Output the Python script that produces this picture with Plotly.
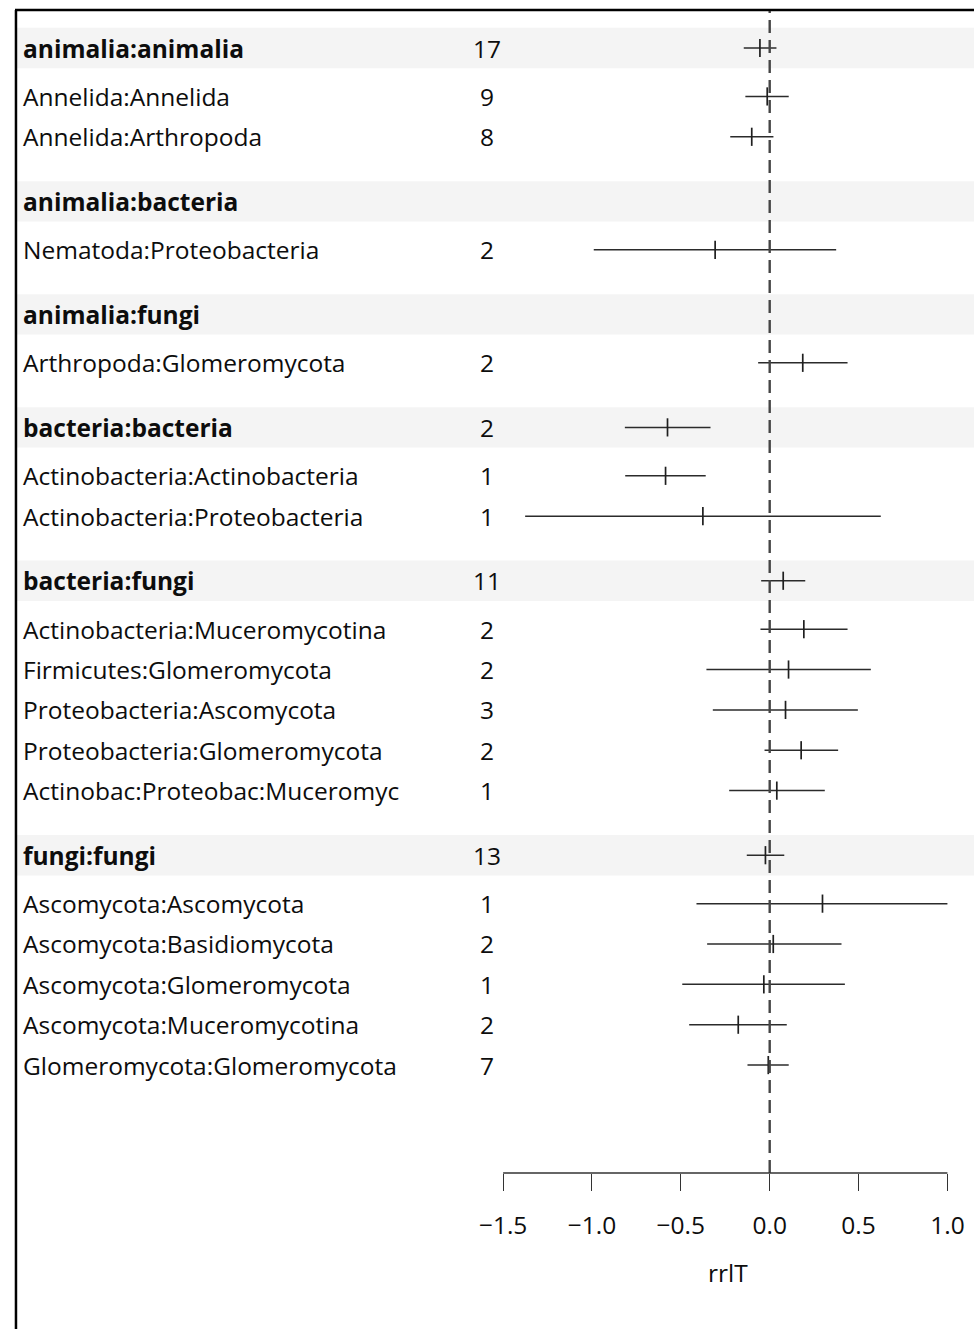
import plotly.graph_objects as go

# ---- data -------------------------------------------------------------
labels = [
    "animalia:animalia", "Annelida:Annelida", "Annelida:Arthropoda",
    "animalia:bacteria", "Nematoda:Proteobacteria",
    "animalia:fungi", "Arthropoda:Glomeromycota",
    "bacteria:bacteria", "Actinobacteria:Actinobacteria", "Actinobacteria:Proteobacteria",
    "bacteria:fungi", "Actinobacteria:Muceromycotina", "Firmicutes:Glomeromycota",
    "Proteobacteria:Ascomycota", "Proteobacteria:Glomeromycota", "Actinobac:Proteobac:Muceromyc",
    "fungi:fungi", "Ascomycota:Ascomycota", "Ascomycota:Basidiomycota",
    "Ascomycota:Glomeromycota", "Ascomycota:Muceromycotina", "Glomeromycota:Glomeromycota",
]
is_group = [
    True, False, False,
    True, False,
    True, False,
    True, False, False,
    True, False, False, False, False, False,
    True, False, False, False, False, False,
]
counts = [17, 9, 8, None, 2, None, 2, 2, 1, 1, 11, 2, 2, 3, 2, 1, 13, 1, 2, 1, 2, 7]
estimate = [-0.055, -0.014, -0.101, None, -0.307, None, 0.186, -0.575, -0.586, -0.376,
            0.076, 0.192, 0.106, 0.089, 0.177, 0.040, -0.024, 0.297, 0.020, -0.033, -0.177, -0.008]
ci_low = [-0.146, -0.137, -0.222, None, -0.990, None, -0.065, -0.815, -0.813, -1.376,
          -0.048, -0.052, -0.356, -0.320, -0.029, -0.228, -0.129, -0.412, -0.352, -0.492, -0.453, -0.125]
ci_high = [0.038, 0.107, 0.021, None, 0.374, None, 0.438, -0.333, -0.360, 0.625,
           0.200, 0.438, 0.569, 0.496, 0.385, 0.310, 0.082, 1.000, 0.404, 0.423, 0.096, 0.107]
x_ticks = [-1.5, -1.0, -0.5, 0.0, 0.5, 1.0]
x_title = "rrlT"

# ---- layout constants -------------------------------------------------
W, H = 1001, 1329
FONT = "Open Sans"
FS = 24.5
OFF, SX = 13.6, 0.973                      # page placement of the figure


def px(x_page):
    """paper fraction for a horizontal page position"""
    return ((x_page - OFF) / SX) / W


ROW_PX, FIRST_ROW_PX = 40.36, 48          # pixels per row step, centre of first row
TOP_PX, AXIS_PX = 10, 1173                # top of panel, x-axis line
X_AT_MIN, X_AT_MAX = 501.7, 946.0         # page x of -1.5 and 1.0

# row positions: header->child 1.2, child->child 1.0, child->header 1.6
ypos = []
y = 0.0
for i, g in enumerate(is_group):
    if i > 0:
        if g:
            y += 1.6
        elif is_group[i - 1]:
            y += 1.2
        else:
            y += 1.0
    ypos.append(round(y, 2))

y_top = (TOP_PX - FIRST_ROW_PX) / ROW_PX
y_bot = (AXIS_PX - FIRST_ROW_PX) / ROW_PX
x_lo, x_hi = -1.55, 1.03
f_min, f_max = px(X_AT_MIN), px(X_AT_MAX)
per_unit = (f_max - f_min) / (x_ticks[-1] - x_ticks[0])
dom_x = [f_min + (x_lo - x_ticks[0]) * per_unit, f_max + (x_hi - x_ticks[-1]) * per_unit]
dom_y = [(H - AXIS_PX) / H, (H - TOP_PX) / H]

fig = go.Figure()

# confidence intervals
cx, cy = [], []
for lo, hi, yy in zip(ci_low, ci_high, ypos):
    if lo is None:
        continue
    cx += [lo, hi, None]
    cy += [yy, yy, None]
fig.add_trace(go.Scatter(x=cx, y=cy, mode="lines",
                         line=dict(color="#2b2b2b", width=1.5),
                         hoverinfo="skip", showlegend=False))

# point estimates as short vertical ticks
ex = [e for e in estimate if e is not None]
ey = [yy for e, yy in zip(estimate, ypos) if e is not None]
fig.add_trace(go.Scatter(x=ex, y=ey, mode="markers",
                         marker=dict(symbol="line-ns", size=13,
                                     line=dict(color="#1f1f1f", width=1.7)),
                         cliponaxis=False, showlegend=False))

shapes = []
# shaded bands behind group rows
for g, yy in zip(is_group, ypos):
    if g:
        shapes.append(dict(type="rect", xref="paper", yref="y",
                           x0=0, x1=1.0, y0=yy - 0.5, y1=yy + 0.5,
                           fillcolor="#f4f4f4", line=dict(width=0), layer="below"))
# zero reference line
shapes.append(dict(type="line", xref="x", yref="paper", x0=0, x1=0,
                   y0=dom_y[0], y1=dom_y[1],
                   line=dict(color="#454545", width=2.4, dash="13px,7px"), layer="above"))
# axis line between the outer ticks
shapes.append(dict(type="line", xref="x", yref="paper", x0=x_ticks[0], x1=x_ticks[-1],
                   y0=dom_y[0], y1=dom_y[0], line=dict(color="#333333", width=1.4)))
# frame: left and top edges
shapes.append(dict(type="line", xref="paper", yref="paper",
                   x0=1.0 / W, x1=1.0 / W, y0=0, y1=(H - 10) / H,
                   line=dict(color="#000000", width=2.5)))
shapes.append(dict(type="line", xref="paper", yref="paper",
                   x0=0, x1=1.0, y0=(H - 10) / H, y1=(H - 10) / H,
                   line=dict(color="#000000", width=2.5)))

annotations = []
for lab, g, n, yy in zip(labels, is_group, counts, ypos):
    txt = f"<b>{lab}</b>" if g else lab
    annotations.append(dict(x=px(20), xref="paper", y=yy, yref="y", text=txt,
                            showarrow=False, xanchor="left", yanchor="middle",
                            font=dict(family=FONT, size=FS, color="#0d0d0d")))
    if n is not None:
        annotations.append(dict(x=px(486), xref="paper", y=yy, yref="y", text=str(n),
                                showarrow=False, xanchor="center", yanchor="middle",
                                font=dict(family=FONT, size=FS, color="#0d0d0d")))
annotations.append(dict(x=px(727), xref="paper", y=(H - 1272) / H, yref="paper",
                        text=x_title, showarrow=False, xanchor="center", yanchor="middle",
                        font=dict(family=FONT, size=FS, color="#0d0d0d")))

fig.update_layout(
    width=W, height=H,
    margin=dict(l=0, r=0, t=0, b=0),
    paper_bgcolor="white", plot_bgcolor="rgba(0,0,0,0)",
    showlegend=False,
    shapes=shapes, annotations=annotations,
    xaxis=dict(domain=dom_x, range=[x_lo, x_hi], showgrid=False, zeroline=False,
               showline=False, tickmode="array", tickvals=x_ticks,
               ticktext=[("\u2212" if v < 0 else "") + f"{abs(v):.1f}" for v in x_ticks],
               ticks="outside", ticklen=17, tickwidth=1.4, tickcolor="#333333",
               ticklabelstandoff=14,
               tickfont=dict(family=FONT, size=FS, color="#0d0d0d")),
    yaxis=dict(domain=dom_y, range=[y_bot, y_top], showgrid=False, zeroline=False,
               showline=False, showticklabels=False, ticks=""),
)

fig.write_html("out.html")
